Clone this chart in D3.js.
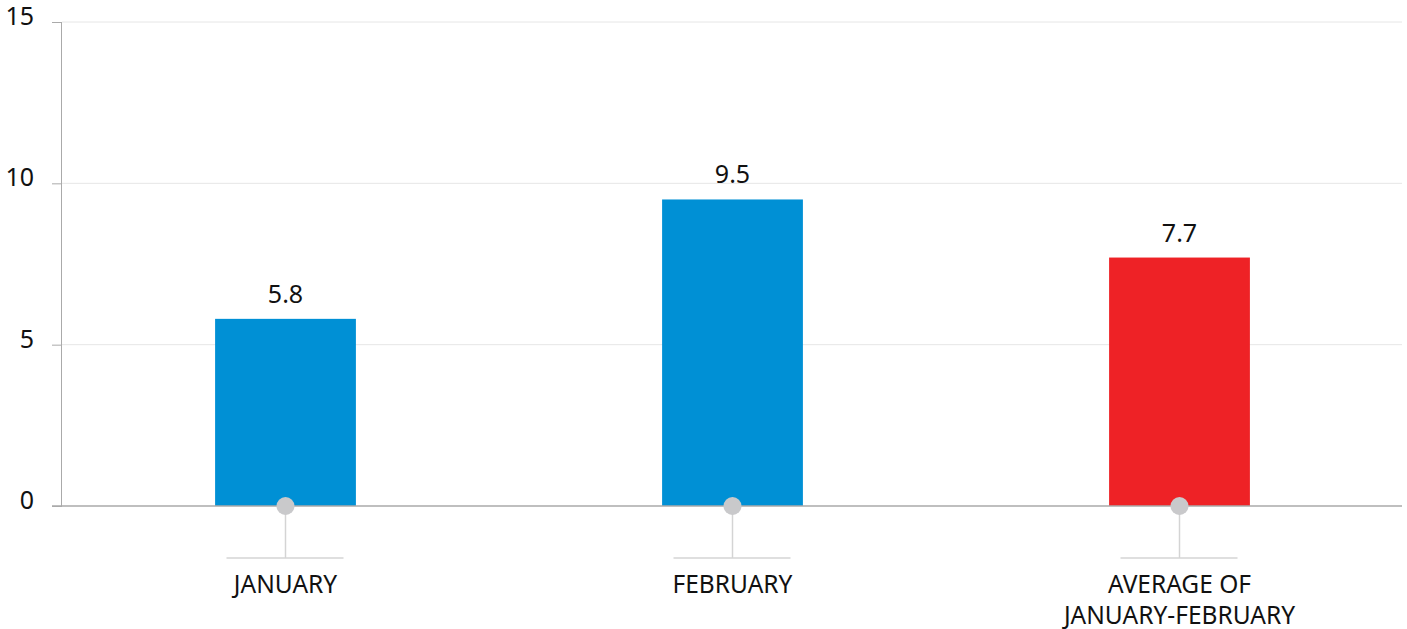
<!DOCTYPE html>
<html><head><meta charset="utf-8">
<script src="https://cdn.jsdelivr.net/npm/d3@7"></script>
<style>body{margin:0;background:#fff;}svg{display:block;font-family:"Noto Sans",sans-serif;}</style>
</head><body>
<svg id="c" width="1407" height="629"></svg>
<script>
const categories = ["JANUARY", "FEBRUARY", "AVERAGE OF\nJANUARY-FEBRUARY"];
const values = [5.8, 9.5, 7.7];
const barColors = ["#0090d5", "#0090d5", "#ee2226"];
const yTicks = [0, 5, 10, 15];

(function () {
const svg = d3.select("#c");
const mLeft = 62, mRight = 1403, mTop = 22, mBottom = 506;
const x = d3.scaleBand().domain(categories).range([mLeft, mRight]);
const y = d3.scaleLinear().domain([0, 15]).range([mBottom, mTop]);
const barW = x.bandwidth() * 0.315;

// gridlines
svg.append("g").selectAll("line").data(yTicks.filter(d => d > 0)).join("line")
  .attr("x1", mLeft).attr("x2", 1402).attr("y1", d => y(d)).attr("y2", d => y(d))
  .attr("stroke", "#e6e6e6").attr("stroke-width", 1);

// y axis
const yAxis = d3.axisLeft(y).tickValues(yTicks).tickSize(10).tickPadding(18);
const ga = svg.append("g").attr("transform", `translate(${mLeft},0)`).call(yAxis);
ga.select(".domain").attr("stroke", "#aaa").attr("d", `M-0.5,${mTop}V${mBottom}`);
ga.selectAll(".tick line").attr("stroke", "#aaa");
ga.selectAll(".tick text").attr("font-size", 25).attr("fill", "#111").attr("font-family", "Noto Sans, sans-serif").attr("dy", "0.1em");

// bars
svg.append("g").selectAll("rect").data(values).join("rect")
  .attr("x", (d, i) => x(categories[i]) + x.bandwidth() / 2 - barW / 2)
  .attr("width", barW)
  .attr("y", d => y(d)).attr("height", d => y(0) - y(d))
  .attr("fill", (d, i) => barColors[i]);

// baseline
svg.append("line").attr("x1", 52).attr("x2", 1402).attr("y1", mBottom).attr("y2", mBottom)
  .attr("stroke", "#aaa").attr("stroke-width", 1.5);

// value labels
svg.append("g").selectAll("text").data(values).join("text")
  .attr("x", (d, i) => x(categories[i]) + x.bandwidth() / 2)
  .attr("y", d => y(d) - 16)
  .attr("text-anchor", "middle").attr("font-size", 25).attr("fill", "#111")
  .text(d => d.toFixed(1));

// category markers & labels
const g = svg.append("g").selectAll("g").data(categories).join("g")
  .attr("transform", d => `translate(${x(d) + x.bandwidth() / 2},0)`);
g.append("line").attr("x1", 0).attr("x2", 0).attr("y1", mBottom).attr("y2", 558)
  .attr("stroke", "#d4d4d4").attr("stroke-width", 1.5);
g.append("line").attr("x1", -59).attr("x2", 58).attr("y1", 558).attr("y2", 558)
  .attr("stroke", "#d4d4d4").attr("stroke-width", 1.5);
g.append("circle").attr("cx", 0).attr("cy", mBottom).attr("r", 9).attr("fill", "#c9c9cb");
g.append("text").attr("text-anchor", "middle").attr("font-size", 24.5).attr("fill", "#111")
  .selectAll("tspan").data(d => d.split("\n")).join("tspan")
  .attr("x", 0).attr("y", (d, i) => 593 + i * 31).text(d => d);
})();
</script>
</body></html>
